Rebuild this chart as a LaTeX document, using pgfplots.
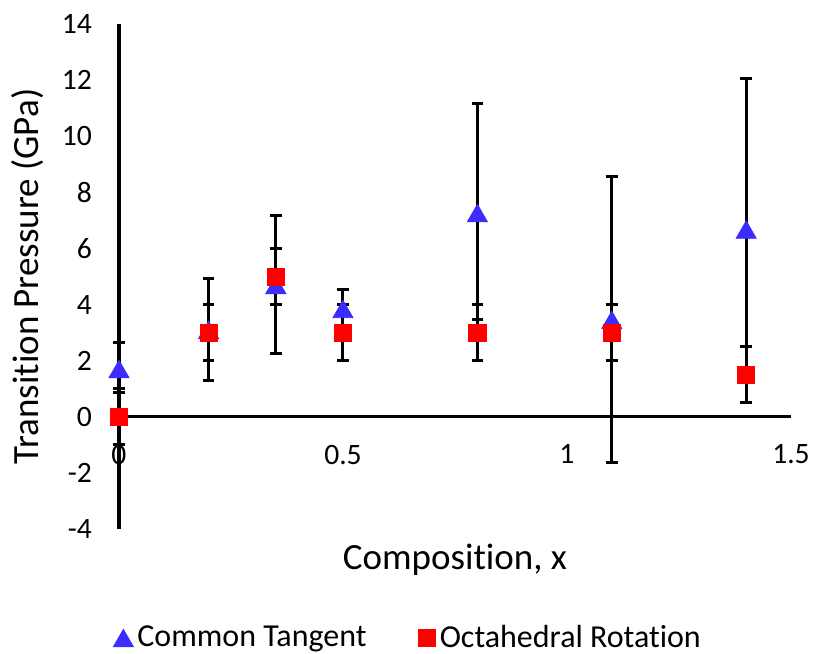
\documentclass[border=0pt]{standalone}
\usepackage{pgfplots}
\pgfplotsset{compat=1.18}
\usepackage{fontspec}
\setmainfont{Carlito}[Ligatures=NoCommon]
\definecolor{ctblue}{RGB}{60,45,255}
\definecolor{orred}{RGB}{255,0,0}

\begin{document}
\begin{tikzpicture}
\begin{axis}[
  width=336pt, height=252.5pt, scale only axis,
  xmin=0, xmax=1.5, ymin=-4, ymax=14,
  axis lines=middle,
  axis line style={-, black, line width=1.6pt},
  xtick={0,0.5,1,1.5}, ytick={-4,-2,...,14},
  major tick length=0pt,
  hide obscured x ticks=false, hide obscured y ticks=false,
  /pgf/number format/assume math mode=true,
  tick label style={font=\fontsize{14.8}{17}\selectfont, black},
  xticklabel style={anchor=north, yshift=-10.5pt},
  yticklabel style={anchor=east, xshift=-10pt},
  xlabel={Composition, x},
  ylabel={Transition Pressure (GPa)},
  every axis x label/.style={at={(axis description cs:0.5,0)}, anchor=base, yshift=-20.2pt, font=\fontsize{18.5}{22}\selectfont},
  every axis y label/.style={at={(axis description cs:-0.136,0.5)}, anchor=center, rotate=90, font=\fontsize{18.5}{22}\selectfont},
  clip=false,
  legend columns=2,
  legend style={at={(axis description cs:-0.009,-0.216)}, anchor=west, draw=none, fill=none, inner sep=0pt,
    font=\fontsize{16}{18}\selectfont, /tikz/every even column/.append style={column sep=24pt}},
  legend image code/.code={\draw[#1] plot coordinates {(0pt,0pt)};},
]
% error bars first, markers on top
\addplot[only marks, mark=none, forget plot,
  error bars/.cd, y dir=both, y explicit,
  error bar style={draw=black, line width=1.5pt},
  error mark options={draw=black, line width=1.5pt, mark size=2.9pt, rotate=90}]
coordinates {
(0,1.7) += (0,0.93) -= (0,0.85)
(0.2,3.1) += (0,1.82) -= (0,1.79)
(0.35,4.7) += (0,2.48) -= (0,2.45)
(0.5,3.84) += (0,0.71) -= (0,0.71)
(0.8,7.26) += (0,3.9) -= (0,3.79)
(1.1,3.45) += (0,5.12) -= (0,5.09)
(1.4,6.67) += (0,5.37) -= (0,5.37)
};
\addplot[only marks, mark=none, forget plot,
  error bars/.cd, y dir=both, y explicit,
  error bar style={draw=black, line width=1.5pt},
  error mark options={draw=black, line width=1.5pt, mark size=2.9pt, rotate=90}]
coordinates {
(0,0) +- (0,1)
(0.2,3) +- (0,1)
(0.35,5) +- (0,1)
(0.5,3) +- (0,1)
(0.8,3) +- (0,1)
(1.1,3) +- (0,1)
(1.4,1.5) +- (0,1)
};
\addplot[only marks, mark=triangle*, mark size=5.8pt, color=ctblue, mark options={yshift=-1.45pt}]
coordinates {(0,1.7) (0.2,3.1) (0.35,4.7) (0.5,3.84) (0.8,7.26) (1.1,3.45) (1.4,6.67)};
\addlegendentry{Common Tangent}
\addplot[only marks, mark=square*, mark size=4.3pt, color=orred]
coordinates {(0,0) (0.2,3) (0.35,5) (0.5,3) (0.8,3) (1.1,3) (1.4,1.5)};
\addlegendentry{Octahedral Rotation}
\end{axis}
\pgfresetboundingbox
\path[use as bounding box] (-59.5pt,-62.5pt) rectangle (348pt,264.5pt);
\end{tikzpicture}
\end{document}
